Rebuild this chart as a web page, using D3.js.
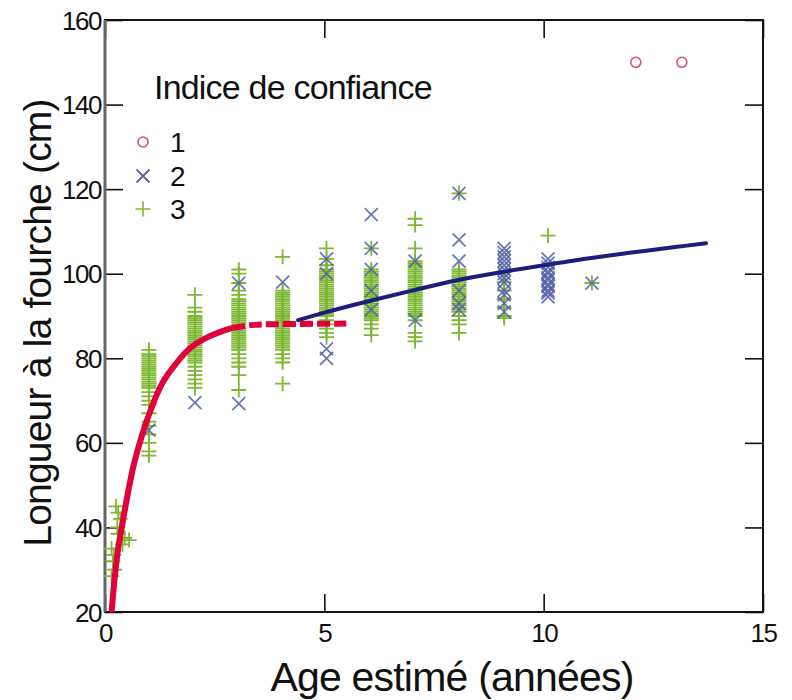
<!DOCTYPE html>
<html><head><meta charset="utf-8">
<script src="https://cdn.jsdelivr.net/npm/d3@7"></script>
<style>
html,body{margin:0;padding:0;background:#fff;}
text{font-family:"Liberation Sans",Arial,sans-serif;fill:#111;}
</style></head>
<body><svg id="c" width="792" height="700"></svg>
<script>
// ---- data ----
const xTicks = [0, 5, 10, 15];
const yTicks = [20, 40, 60, 80, 100, 120, 140, 160];
const xTitle = "Age estimé (années)";
const yTitle = "Longueur à la fourche (cm)";
const legendTitle = "Indice de confiance";
const legendLabels = ["1", "2", "3"];

// Indice 1 (circles): [age, length]
const series1 = [[12.1,150],[13.15,150]];

// Indice 2 (blue x): ages of columns and the lengths in each column
const ages2 = [1.0, 2.05, 3.05, 4.05, 5.05, 6.07, 7.07, 8.07, 9.1, 10.1, 11.1];
const lengths2 = [
  [63],
  [69.5],
  [97.8, 69.3],
  [98],
  [103.5, 100, 82.2, 80],
  [114, 106, 101, 96, 91.5],
  [103, 89],
  [119, 108, 103, 96, 93, 91.5],
  [106, 105, 104, 103, 102, 101, 100, 99, 98, 96, 95, 93, 91],
  [103.5, 102.5, 101.5, 100.5, 100, 99, 98.5, 97.5, 97, 96, 95.5, 94.5],
  [97.8]
];

// Indice 3 (green +): youngest fish (scattered ages) as [age, length]
const young3 = [[0.25,45],[0.3,43.5],[0.35,42],[0.28,40],[0.3,38.5],[0.45,37.5],[0.55,37],[0.4,36],
  [0.15,35],[0.2,33.5],[0.18,32],[0.22,30],[0.15,28.5]];
// Indice 3, column ages and lengths
const ages3 = [1.0, 2.05, 3.05, 4.05, 5.05, 6.07, 7.07, 8.07, 9.1, 10.1, 11.1];
const lengths3 = [
  [82,81,80.5,80,79.5,79,78.5,78,77.5,77,76.5,76,75.5,75,74.5,74,73.5,73,72,71,70,69,67,65,64,62,60,58,57],
  [95,92,91,90,89.5,89,88.5,88,87.5,87,86.5,86,85.5,85,84.5,84,83.5,83,82.5,82,81.5,81,80.5,80,79.5,79,78,77,76,75,74,73],
  [101,100,97.8,96,95,94,93.5,93,92.5,92,91.5,91,90.5,90,89.5,89,88.5,88,87.5,87,86.5,86,85.5,85,84.5,84,83.5,83,82.5,82,81,80,79,78,76,72.5],
  [104,96,95.5,95,94.5,94,93.5,93,92.5,92,91.5,91,90.5,90,89.5,89,88.5,88,87.5,87,86.5,86,85.5,85,84.5,84,83.5,83,82.5,82,81,80,79,74],
  [106,103.5,102,101,100.5,100,99.5,99,98.5,98,97.5,97,96.5,96,95.5,95,94.5,94,93.5,93,92.5,92,91.5,91,90.5,90,89,88,87,86,85],
  [106,101,100.5,100,99.5,99,98.5,98,97.5,97,96.5,96,95.5,95,94.5,94,93.5,93,92.5,92,91.5,91,90.5,90,89.5,89,88,87,85.5],
  [113,111.5,106,103,102.5,102,101.5,101,100.5,100,99.5,99,98.5,98,97.5,97,96.5,96,95.5,95,94.5,94,93.5,93,92.5,92,91.5,91,90.5,90,89,86,85,84],
  [119,101,100.5,100,99.5,99,98.5,98,97.5,97,96.5,96,95.5,95,94.5,94,93.5,93,92.5,92,91.5,91,90,89,88,86],
  [98,96,94,92,90,89.5],
  [109],
  [97.8]
];

// fitted growth curves [age, length]
const redFit = [[0.15,20],[0.22,28],[0.3,35],[0.4,41],[0.52,48],[0.66,55],[0.85,62],[1.05,68],
  [1.3,74],[1.6,78.5],[1.95,82.5],[2.4,85.3],[2.9,87.2]];
const redFitDash = [[2.9,87.2],[3.4,87.9],[4.2,88.1],[5.5,88.2]];
const blueFit = [[4.4,89],[5,90.8],[6,93.5],[7,96],[8,98.4],[9,100.3],[10,102],[11,103.6],
  [12,105],[13,106.3],[13.7,107.2]];

// ---- drawing ----
const L = 105, R = 763, T = 20, B = 612;
const svg = d3.select("#c");
svg.append("rect").attr("width",792).attr("height",700).attr("fill","#fff");
const x = d3.scaleLinear().domain([0,15]).range([L,R]);
const y = d3.scaleLinear().domain([20,160]).range([B,T]);

const GREEN = "#7cb832", BLUE = "#5560a6", RED = "#e0003a", NAVY = "#1c1f7a", PINK = "#d9506a";

const tickLen = 18;
const gx = svg.append("g").attr("transform",`translate(0,${B})`)
  .call(d3.axisBottom(x).tickValues(xTicks).tickSizeInner(-tickLen).tickSizeOuter(0).tickPadding(12));
const gxt = svg.append("g").attr("transform",`translate(0,${T})`)
  .call(d3.axisTop(x).tickValues(xTicks).tickSizeInner(-tickLen).tickSizeOuter(0).tickFormat(""));
const gy = svg.append("g").attr("transform",`translate(${L},0)`)
  .call(d3.axisLeft(y).tickValues(yTicks).tickSizeInner(-tickLen).tickSizeOuter(0).tickPadding(4));
const gyr = svg.append("g").attr("transform",`translate(${R},0)`)
  .call(d3.axisRight(y).tickValues(yTicks).tickSizeInner(-tickLen).tickSizeOuter(0).tickFormat(""));
[gx,gxt,gy,gyr].forEach(g=>{
  g.select(".domain").remove();
  g.selectAll(".tick line").attr("stroke","#111").attr("stroke-width",1.6);
  g.selectAll(".tick text").style("font-size","26px").style("letter-spacing","-1.5px").attr("fill","#111");
});
gy.selectAll(".tick text").attr("dy","0.35em");
gx.selectAll(".tick text").attr("dy","0.71em");
svg.append("rect").attr("x",L).attr("y",T).attr("width",R-L).attr("height",B-T)
  .attr("fill","none").attr("stroke","#111").attr("stroke-width",2);
svg.append("line").attr("x1",L).attr("x2",L).attr("y1",T).attr("y2",B)
  .attr("stroke","#666").attr("stroke-width",3);

// flatten column arrays into points
const pts3 = young3.concat(ages3.flatMap((a,i)=>lengths3[i].map(v=>[a,v])));
const pts2 = ages2.flatMap((a,i)=>lengths2[i].map(v=>[a,v]));

const plus = "M-7.5,0H7.5M0,-7.5V7.5";
const cross = "M-6.5,-6.5L6.5,6.5M-6.5,6.5L6.5,-6.5";
svg.append("g").selectAll("path").data(pts3).join("path")
  .attr("d",plus).attr("transform",d=>`translate(${x(d[0])},${y(d[1])})`)
  .attr("stroke",GREEN).attr("stroke-width",1.8).attr("fill","none");
svg.append("g").selectAll("path").data(pts2).join("path")
  .attr("d",cross).attr("transform",d=>`translate(${x(d[0])},${y(d[1])})`)
  .attr("stroke",BLUE).attr("stroke-width",1.8).attr("fill","none").attr("opacity",0.85);
svg.append("g").selectAll("circle").data(series1).join("circle")
  .attr("cx",d=>x(d[0])).attr("cy",d=>y(d[1])).attr("r",5)
  .attr("stroke",PINK).attr("stroke-width",1.6).attr("fill","none");

// fitted curves
const line = d3.line().x(d=>x(d[0])).y(d=>y(d[1])).curve(d3.curveCatmullRom);
svg.append("path").attr("d",line(blueFit)).attr("fill","none").attr("stroke",NAVY)
  .attr("stroke-width",4).attr("stroke-linecap","round");
svg.append("path").attr("d",line(redFit)).attr("fill","none").attr("stroke",RED)
  .attr("stroke-width",6).attr("stroke-linecap","butt");
svg.append("path").attr("d",line(redFitDash)).attr("fill","none").attr("stroke",RED)
  .attr("stroke-width",6).attr("stroke-dasharray","13,4");

// legend
svg.append("text").attr("x",154).attr("y",99).text(legendTitle)
  .style("font-size","34px").style("letter-spacing","-0.8px");
const legY = [142, 176, 209];
const lg = svg.append("g");
lg.append("circle").attr("cx",143).attr("cy",legY[0]).attr("r",5)
  .attr("stroke",PINK).attr("stroke-width",1.6).attr("fill","none");
lg.append("path").attr("d",cross).attr("transform",`translate(143,${legY[1]})`)
  .attr("stroke",BLUE).attr("stroke-width",1.8).attr("fill","none");
lg.append("path").attr("d",plus).attr("transform",`translate(143,${legY[2]})`)
  .attr("stroke",GREEN).attr("stroke-width",1.6).attr("fill","none");
legendLabels.forEach((t,i)=>{
  lg.append("text").attr("x",170).attr("y",legY[i]).attr("dy","0.36em").text(t).style("font-size","28px");
});

// axis titles
svg.append("text").attr("x",452).attr("y",691).attr("text-anchor","middle").text(xTitle)
  .style("font-size","41px").style("letter-spacing","-0.8px");
svg.append("text").attr("transform","translate(51,323) rotate(-90)").attr("text-anchor","middle")
  .text(yTitle).style("font-size","39px").style("letter-spacing","-0.8px");
</script></body></html>
